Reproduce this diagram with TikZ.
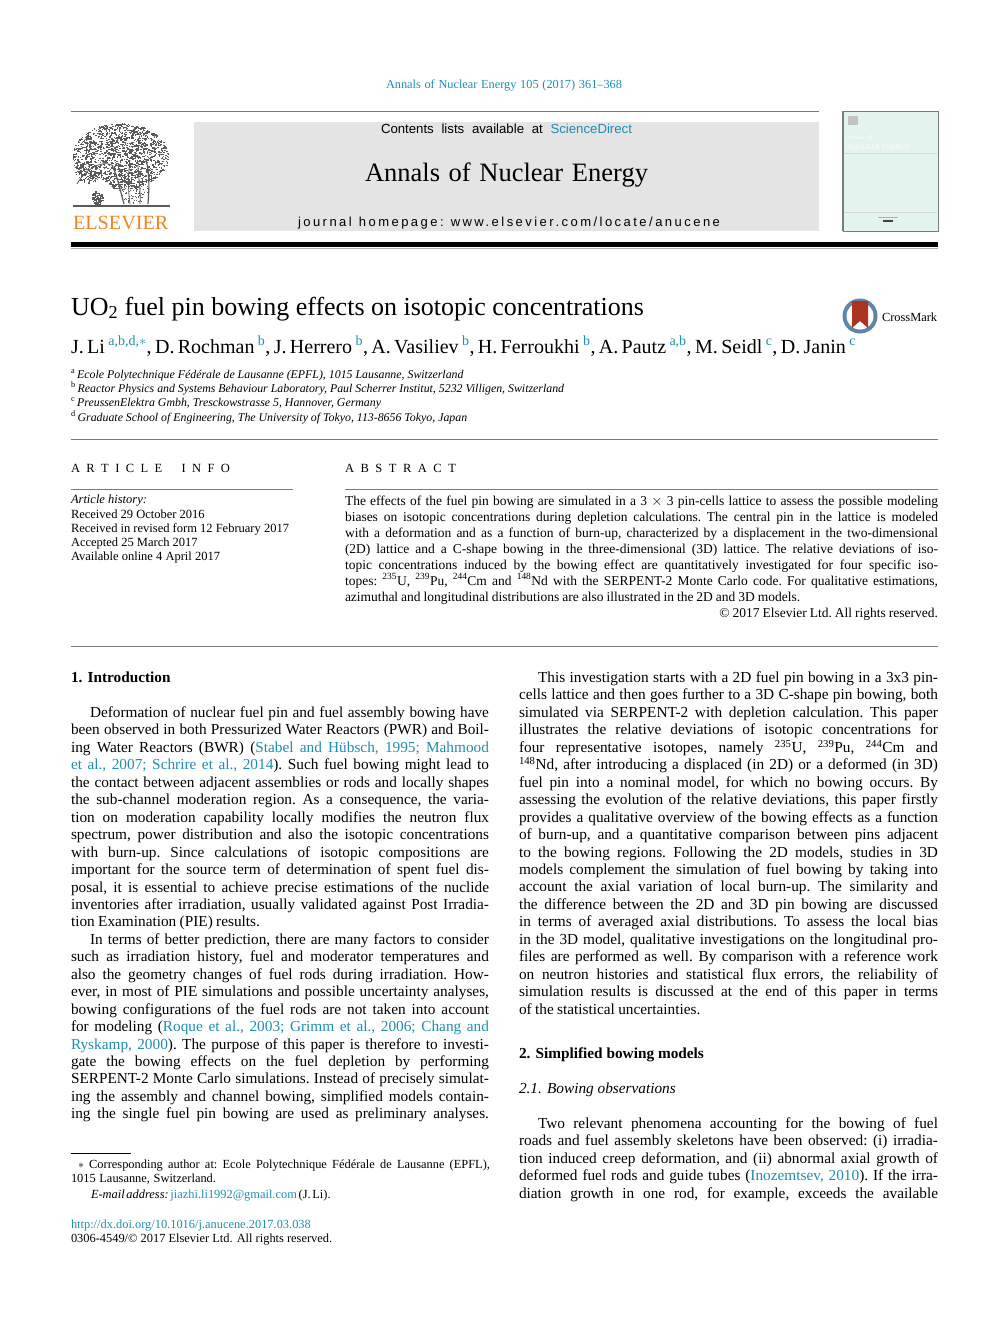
\documentclass[tikz,border=0pt]{standalone}
\usepackage{fontspec}
\setmainfont{Liberation Serif}
\setsansfont{Liberation Sans}
\newfontfamily\sanswide[LetterSpace=19]{Liberation Sans}
\definecolor{linkblue}{HTML}{1E8DB5}
\definecolor{barcolor}{HTML}{E4E4E4}
\definecolor{rulegray}{HTML}{7A7A7A}
\definecolor{covermint}{HTML}{E3F3EE}
\definecolor{elsorange}{HTML}{F58220}
\definecolor{treegray}{HTML}{5A5A5A}
\definecolor{ringblue}{HTML}{5F86A8}
\definecolor{markred}{HTML}{A9341F}
\newcommand{\jl}[2]{\hbox to #1pt{\frenchspacing\spaceskip=.22em plus 1em minus .08em\relax #2}}
\newcommand{\lk}[1]{\textcolor{linkblue}{#1}}
\newcommand{\ind}{\kern19pt\relax}
\newcommand{\stp}[1]{\textsuperscript{#1}}
\tikzset{
  txt/.style={anchor=base west, inner sep=0pt, outer sep=0pt},
  body/.style={txt, font=\fontsize{15.3}{17}\selectfont},
  abst/.style={txt, font=\fontsize{13.5}{15}\selectfont},
  info/.style={txt, font=\fontsize{12.5}{14}\selectfont},
  affil/.style={txt, font=\fontsize{11.85}{13}\selectfont\itshape},
  foot/.style={txt, font=\fontsize{12.4}{14}\selectfont},
  thinrule/.style={rulegray, line width=0.8pt}
}
\begin{document}
\begin{tikzpicture}[x=1pt, y=-1pt]
    \useasboundingbox (0,0) rectangle (992,1323);

    % masthead
    \node[txt, font=\fontsize{12.3}{13}\selectfont] (journalref) at (386,88) {\jl{236}{\lk{Annals of Nuclear Energy 105 (2017) 361--368}}};
    \draw[thinrule] (71,111) -- (819,111);
    \fill[barcolor] (194,122) rectangle (819,231);
    \node[txt, font=\sffamily\fontsize{13.2}{14}\selectfont] (contents) at (381,133) {\jl{251}{Contents lists available at \lk{ScienceDirect}}};
    \node[txt, font=\fontsize{26.5}{28}\selectfont] (jtitle) at (365,181) {\jl{283}{Annals of Nuclear Energy}};
    \node[txt, font=\fontsize{13}{15}\selectfont] (homepage) at (298,226) {\jl{422}{\sanswide journal homepage: www.elsevier.com/locate/anucene}};
    \fill[black] (71,242) rectangle (938,247);
    \draw[rulegray!60, line width=0.6pt] (71,247.8) -- (938,247.8);

    % elsevier tree
    \pgfmathsetseed{17}
    \foreach \i in {1,...,1500} {
        \pgfmathsetmacro{\ang}{rnd*360}
        \pgfmathsetmacro{\rad}{sqrt(rnd)}
        \fill[treegray] ({120+48*\rad*cos(\ang)},{156+33*\rad*sin(\ang)}) rectangle ++(1.5,1.2);
    }
    \fill[white] (72,186) .. controls (88,176) and (104,178) .. (113,188) -- (114,204) -- (72,204) -- cycle;
    \fill[white] (154,188) -- (170,182) -- (170,204) -- (154,204) -- cycle;
    \foreach \i in {1,...,110} {
        \pgfmathsetmacro{\ang}{rnd*360}
        \pgfmathsetmacro{\rad}{sqrt(rnd)}
        \fill[treegray] ({88+14*\rad*cos(\ang)},{172+11*\rad*sin(\ang)}) rectangle ++(1.4,1.2);
        \fill[treegray] ({97+6*\rad*cos(\ang)},{198+7*\rad*sin(\ang)}) rectangle ++(1.3,1.2);
        \fill[treegray] ({133+16*\rad*cos(\ang)},{188+16*\rad*sin(\ang)}) rectangle ++(1.2,1.0);
    }
    \draw[treegray, line width=1.2pt] (124,204) .. controls (120,190) and (118,178) .. (112,165);
    \draw[treegray, line width=1.2pt] (148,204) .. controls (149,190) and (150,175) .. (146,160);
    \draw[treegray, line width=0.8pt] (130,204) .. controls (128,190) and (128,175) .. (130,160);
    \draw[treegray, line width=0.8pt] (140,204) .. controls (141,190) and (138,175) .. (138,165);
    \draw[treegray, line width=0.8pt] (112,165) .. controls (100,160) and (85,170) .. (77,184);
    \draw[treegray, line width=2.4pt] (73,206) -- (170,206);
    \node[txt, font=\fontsize{20.2}{24}\selectfont, text=elsorange] (elsevier) at (73,229.5) {\jl{97}{ELSEVIER}};

    % journal cover
    \fill[covermint] (843,111) rectangle (938,231);
    \draw[rulegray, line width=0.7pt] (843,111) rectangle (938,231);
    \draw[rulegray, line width=1.3pt] (843,111) -- (843,231);
    \fill[rulegray!45] (848,116) rectangle (858,125);
    \node[txt, font=\fontsize{7}{8}\selectfont, text=white] (coverone) at (847,139) {annals of};
    \node[txt, font=\fontsize{7}{8}\selectfont, text=white] (covertwo) at (847,149) {NUCLEAR ENERGY};
    \draw[rulegray!30, line width=0.6pt] (844,153) -- (937,153);
    \draw[rulegray!30, line width=0.6pt] (844,212) -- (937,212);
    \fill[rulegray!60] (878,217) rectangle (898,218);
    \fill[black!75] (883,220) rectangle (893,221.5);

    % title and authors
    \node[txt, font=\fontsize{26}{28}\selectfont] (title) at (71,315) {\jl{573}{UO\textsubscript{2} fuel pin bowing effects on isotopic concentrations}};
    \fill[ringblue] (860,316) circle (17.5);
    \fill[white] (860,316) circle (13.5);
    \fill[markred] (852,301) -- (868,301) -- (868,328) -- (860,321) -- (852,328) -- cycle;
    \node[txt, font=\fontsize{12.4}{15}\selectfont] (crossmark) at (882,321) {\jl{55}{CrossMark}};
    \node[txt, font=\fontsize{20}{23}\selectfont] (authors) at (71,353.5) {\jl{785}{J. Li \lk{\stp{a,b,d,$\ast$}}, D. Rochman \lk{\stp{b}}, J. Herrero \lk{\stp{b}}, A. Vasiliev \lk{\stp{b}}, H. Ferroukhi \lk{\stp{b}}, A. Pautz \lk{\stp{a,b}}, M. Seidl \lk{\stp{c}}, D. Janin \lk{\stp{c}}}};

    \node[affil] (affila) at (71,378) {{\upshape\stp{a}}\,Ecole Polytechnique Fédérale de Lausanne (EPFL), 1015 Lausanne, Switzerland};
    \node[affil] (affilb) at (71,392) {{\upshape\stp{b}}\,Reactor Physics and Systems Behaviour Laboratory, Paul Scherrer Institut, 5232 Villigen, Switzerland};
    \node[affil] (affilc) at (71,406) {{\upshape\stp{c}}\,PreussenElektra Gmbh, Tresckowstrasse 5, Hannover, Germany};
    \node[affil] (affild) at (71,421) {{\upshape\stp{d}}\,Graduate School of Engineering, The University of Tokyo, 113-8656 Tokyo, Japan};
    \draw[thinrule] (71,439) -- (938,439);

    % article info
    \node[info] (infohead) at (71,472) {\jl{159}{A\hfil R\hfil T\hfil I\hfil C\hfil L\hfil E\hfil\hfil\hfil I\hfil N\hfil F\hfil O}};
    \draw[thinrule] (71,489) -- (293,489);
    \node[info] (history) at (71,503) {\itshape Article history:};
    \foreach \txt [count=\i from 0] in {Received 29 October 2016, Received in revised form 12 February 2017, Accepted 25 March 2017, Available online 4 April 2017} {
        \node[info] (hist\i) at (71,518+14*\i) {\txt};
    }

    % abstract
    \node[info] (abshead) at (345,472) {\jl{111}{A\hfil B\hfil S\hfil T\hfil R\hfil A\hfil C\hfil T}};
    \draw[thinrule] (345,489) -- (938,489);
    \foreach \txt [count=\i from 0] in {
        {The effects of the fuel pin bowing are simulated in a 3 $\times$ 3 pin-cells lattice to assess the possible modeling},
        {biases on isotopic concentrations during depletion calculations. The central pin in the lattice is modeled},
        {with a deformation and as a function of burn-up, characterized by a displacement in the two-dimensional},
        {(2D) lattice and a C-shape bowing in the three-dimensional (3D) lattice. The relative deviations of iso-},
        {topic concentrations induced by the bowing effect are quantitatively investigated for four specific iso-},
        {topes: \stp{235}U, \stp{239}Pu, \stp{244}Cm and \stp{148}Nd with the SERPENT-2 Monte Carlo code. For qualitative estimations,},
        {azimuthal and longitudinal distributions are also illustrated in the 2D and 3D models.\hfill},
        {\hfill © 2017 Elsevier Ltd. All rights reserved.}} {
        \node[abst] (abs\i) at (345,505.2+16*\i) {\jl{593}{\txt}};
    }
    \draw[thinrule] (71,646) -- (938,646);

    % left column
    \node[body] (secone) at (71,682.5) {\bfseries 1. Introduction};
    \foreach \txt [count=\i from 0] in {
        {\ind Deformation of nuclear fuel pin and fuel assembly bowing have},
        {been observed in both Pressurized Water Reactors (PWR) and Boil-},
        {ing Water Reactors (BWR) (\lk{Stabel and Hübsch, 1995; Mahmood}},
        {\lk{et al., 2007; Schrire et al., 2014}). Such fuel bowing might lead to},
        {the contact between adjacent assemblies or rods and locally shapes},
        {the sub-channel moderation region. As a consequence, the varia-},
        {tion on moderation capability locally modifies the neutron flux},
        {spectrum, power distribution and also the isotopic concentrations},
        {with burn-up. Since calculations of isotopic compositions are},
        {important for the source term of determination of spent fuel dis-},
        {posal, it is essential to achieve precise estimations of the nuclide},
        {inventories after irradiation, usually validated against Post Irradia-},
        {tion Examination (PIE) results.\hfill},
        {\ind In terms of better prediction, there are many factors to consider},
        {such as irradiation history, fuel and moderator temperatures and},
        {also the geometry changes of fuel rods during irradiation. How-},
        {ever, in most of PIE simulations and possible uncertainty analyses,},
        {bowing configurations of the fuel rods are not taken into account},
        {for modeling (\lk{Roque et al., 2003; Grimm et al., 2006; Chang and}},
        {\lk{Ryskamp, 2000}). The purpose of this paper is therefore to investi-},
        {gate the bowing effects on the fuel depletion by performing},
        {SERPENT-2 Monte Carlo simulations. Instead of precisely simulat-},
        {ing the assembly and channel bowing, simplified models contain-},
        {ing the single fuel pin bowing are used as preliminary analyses.}} {
        \node[body] (left\i) at (71,717.5+17.45*\i) {\jl{418}{\txt}};
    }

    % right column
    \foreach \txt [count=\i from 0] in {
        {\ind This investigation starts with a 2D fuel pin bowing in a 3x3 pin-},
        {cells lattice and then goes further to a 3D C-shape pin bowing, both},
        {simulated via SERPENT-2 with depletion calculation. This paper},
        {illustrates the relative deviations of isotopic concentrations for},
        {four representative isotopes, namely \stp{235}U, \stp{239}Pu, \stp{244}Cm and},
        {\stp{148}Nd, after introducing a displaced (in 2D) or a deformed (in 3D)},
        {fuel pin into a nominal model, for which no bowing occurs. By},
        {assessing the evolution of the relative deviations, this paper firstly},
        {provides a qualitative overview of the bowing effects as a function},
        {of burn-up, and a quantitative comparison between pins adjacent},
        {to the bowing regions. Following the 2D models, studies in 3D},
        {models complement the simulation of fuel bowing by taking into},
        {account the axial variation of local burn-up. The similarity and},
        {the difference between the 2D and 3D pin bowing are discussed},
        {in terms of averaged axial distributions. To assess the local bias},
        {in the 3D model, qualitative investigations on the longitudinal pro-},
        {files are performed as well. By comparison with a reference work},
        {on neutron histories and statistical flux errors, the reliability of},
        {simulation results is discussed at the end of this paper in terms},
        {of the statistical uncertainties.\hfill}} {
        \node[body] (right\i) at (519,682.5+17.45*\i) {\jl{419}{\txt}};
    }
    \node[body] (sectwo) at (519,1058.5) {\bfseries 2. Simplified bowing models};
    \node[body] (subsec) at (519,1093.5) {\itshape 2.1. Bowing observations};
    \foreach \txt [count=\i from 0] in {
        {\ind Two relevant phenomena accounting for the bowing of fuel},
        {roads and fuel assembly skeletons have been observed: (i) irradia-},
        {tion induced creep deformation, and (ii) abnormal axial growth of},
        {deformed fuel rods and guide tubes (\lk{Inozemtsev, 2010}). If the irra-},
        {diation growth in one rod, for example, exceeds the available}} {
        \node[body] (obs\i) at (519,1128.5+17.45*\i) {\jl{419}{\txt}};
    }

    % footnotes
    \draw[black, line width=0.7pt] (71,1153.5) -- (131,1153.5);
    \node[foot] (corr) at (78,1168) {\jl{412}{$\ast$ Corresponding author at: Ecole Polytechnique Fédérale de Lausanne (EPFL),}};
    \node[foot] (corrtwo) at (71,1182) {\jl{145}{1015 Lausanne, Switzerland.}};
    \node[foot] (email) at (91,1198) {\jl{233}{\textit{E-mail address:} \lk{jiazhi.li1992@gmail.com} (J. Li).}};
    \node[foot] (doi) at (71,1228) {\lk{http://dx.doi.org/10.1016/j.anucene.2017.03.038}};
    \node[foot] (issn) at (71,1242) {0306-4549/© 2017 Elsevier Ltd. All rights reserved.};
\end{tikzpicture}
\end{document}
